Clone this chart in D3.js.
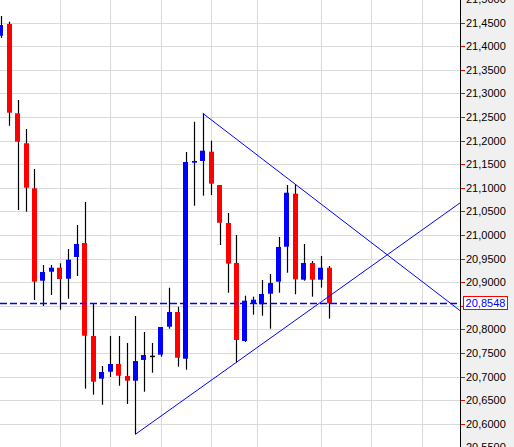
<!DOCTYPE html>
<html>
<head>
<meta charset="utf-8">
<script src="https://cdn.jsdelivr.net/npm/d3@7"></script>
<style>
  html, body { margin: 0; padding: 0; background: #fff; }
  svg { display: block; }
  text { font-family: "Liberation Sans", Arial, sans-serif; font-size: 11px; }
</style>
</head>
<body>
<svg id="chart" width="514" height="447"></svg>
<script>
// OHLC bars, oldest first
const opens  = [21.4220, 21.4468, 21.2576, 21.1941, 21.0987, 20.9030, 20.9220, 20.9305, 20.9072, 20.9532,
                20.9828, 20.7858, 20.6954, 20.7102, 20.7265, 20.7011, 20.6911, 20.7350, 20.7441, 20.7462,
                20.8055, 20.8367, 20.7377, 21.1530, 21.1566, 21.1763, 21.1057, 21.0252, 20.9405, 20.7752,
                20.8557, 20.8530, 20.8754, 20.9009, 20.9750, 21.0873, 20.9051, 20.9405, 20.9051, 20.9305];
const highs  = [21.4638, 21.4517, 21.2858, 21.2244, 21.1396, 20.9362, 20.9362, 20.9398, 20.9701, 21.0210,
                21.0697, 20.8557, 20.7222, 20.7858, 20.7858, 20.7710, 20.8282, 20.7943, 20.7710, 20.8049,
                20.8881, 20.8478, 21.1756, 21.2398, 21.2576, 21.1996, 21.1057, 21.0464, 20.9998, 20.8712,
                20.8691, 20.9045, 20.9172, 20.9956, 21.1057, 21.1072, 20.9807, 20.9447, 20.9553, 20.9341];
const lows   = [21.4172, 21.2314, 21.0528, 21.0492, 20.8621, 20.8494, 20.8727, 20.8415, 20.8648, 20.9129,
                20.6742, 20.6614, 20.6403, 20.6989, 20.6805, 20.6418, 20.5776, 20.6678, 20.7081, 20.7420,
                20.8013, 20.7208, 20.7144, 21.0619, 21.0831, 21.0845, 20.9786, 20.8775, 20.7301, 20.7731,
                20.8309, 20.8288, 20.8013, 20.8775, 20.9199, 20.8742, 20.9030, 20.8691, 20.8881, 20.8225];
const closes = [21.4447, 21.2589, 21.1975, 21.1000, 20.9009, 20.9214, 20.9305, 20.9066, 20.9475, 20.9807,
                20.7864, 20.6890, 20.7095, 20.7265, 20.7017, 20.6911, 20.7328, 20.7455, 20.7441, 20.8049,
                20.8367, 20.7398, 21.1544, 21.1566, 21.1784, 21.1085, 21.0258, 20.9390, 20.7773, 20.8606,
                20.8627, 20.8748, 20.8981, 20.9744, 21.0894, 20.9059, 20.9405, 20.9051, 20.9305, 20.8548];

// price axis ticks and session separators (bar positions)
const priceTicks = [20.55, 20.60, 20.65, 20.70, 20.75, 20.80, 20.85, 20.90, 20.95, 21.00,
                    21.05, 21.10, 21.15, 21.20, 21.25, 21.30, 21.35, 21.40, 21.45, 21.50];
const sessionBreaks = [7, 13, 19, 25, 30.5, 38, 44, 50];

// trend lines: two anchor points each [bar, price], extended to the right edge
const upperTrend = [[24, 21.2576], [35, 21.1072]];
const lowerTrend = [[16, 20.5776], [28, 20.7301]];

const lastPrice = 20.8548;

const W = 514, H = 447;
const plotRight = 460;

const svg = d3.select("#chart");

const x = d3.scaleLinear().domain([0, 39]).range([0.8, 329.0]);
const y = d3.scaleLinear().domain([20.55, 21.50]).range([447.3, -1.1]);

const fmt = v => d3.format(".4f")(v).replace(".", ",");
const crisp = v => Math.round(v) + 0.5;

// axis panel
svg.append("rect").attr("x", plotRight).attr("y", 0)
  .attr("width", W - plotRight).attr("height", H).attr("fill", "#f0f0f0");

const defs = svg.append("defs");
defs.append("clipPath").attr("id", "plotClip")
  .append("rect").attr("x", 0).attr("y", 0).attr("width", plotRight).attr("height", H);

const plot = svg.append("g").attr("clip-path", "url(#plotClip)");

// grid
plot.append("g").selectAll("line").data(priceTicks).join("line")
  .attr("x1", 0).attr("x2", plotRight)
  .attr("y1", d => crisp(y(d))).attr("y2", d => crisp(y(d)))
  .attr("stroke", "#dadada").attr("stroke-width", 1);

plot.append("g").selectAll("line").data(sessionBreaks).join("line")
  .attr("y1", 0).attr("y2", H)
  .attr("x1", d => crisp(x(d))).attr("x2", d => crisp(x(d)))
  .attr("stroke", "#dadada").attr("stroke-width", 1);

// candles
const bars = d3.range(opens.length).map(i => ({
  i, o: opens[i], h: highs[i], l: lows[i], c: closes[i]
}));
const colorOf = d => d.c > d.o ? "#0000ff" : (d.c < d.o ? "#ff0000" : "#000000");

const cg = plot.append("g");
cg.selectAll("line.wick").data(bars).join("line")
  .attr("class", "wick")
  .attr("x1", d => crisp(x(d.i))).attr("x2", d => crisp(x(d.i)))
  .attr("y1", d => y(d.h)).attr("y2", d => y(d.l))
  .attr("stroke", "#000").attr("stroke-width", 1.2);

cg.selectAll("rect.body").data(bars).join("rect")
  .attr("class", "body")
  .attr("x", d => Math.round(x(d.i) - 2.5))
  .attr("width", 5)
  .attr("y", d => Math.min(y(d.o), y(d.c)))
  .attr("height", d => Math.max(1.5, Math.abs(y(d.o) - y(d.c))))
  .attr("fill", colorOf);

// last price line
plot.append("line")
  .attr("x1", 0).attr("x2", plotRight)
  .attr("y1", y(lastPrice)).attr("y2", y(lastPrice))
  .attr("stroke", "#0000ff").attr("stroke-width", 1.5)
  .attr("stroke-dasharray", "7,3");

// trend lines
const rightBar = x.invert(plotRight);
function drawTrend(pts) {
  const [[i0, p0], [i1, p1]] = pts;
  const slope = (p1 - p0) / (i1 - i0);
  const pEnd = p0 + slope * (rightBar - i0);
  plot.append("line")
    .attr("x1", x(i0)).attr("y1", y(p0))
    .attr("x2", x(rightBar)).attr("y2", y(pEnd))
    .attr("stroke", "#0000ff").attr("stroke-width", 1);
}
drawTrend(upperTrend);
drawTrend(lowerTrend);

// price axis
svg.append("line").attr("x1", plotRight + 0.5).attr("x2", plotRight + 0.5)
  .attr("y1", 0).attr("y2", H).attr("stroke", "#000");

// tick labels that would sit under the last price tag are left out
const ly = y(lastPrice);
const axisLabels = priceTicks.filter(d => Math.abs(y(d) - ly) > 12);

const axisG = svg.append("g");
axisG.selectAll("line").data(priceTicks).join("line")
  .attr("x1", plotRight + 1).attr("x2", plotRight + 5)
  .attr("y1", d => crisp(y(d))).attr("y2", d => crisp(y(d)))
  .attr("stroke", "#ff0000");
axisG.selectAll("text").data(axisLabels).join("text")
  .attr("x", plotRight + 6).attr("y", d => y(d) + 4)
  .attr("fill", "#000")
  .text(fmt);

// last price tag
svg.append("rect")
  .attr("x", 463.5).attr("y", Math.round(ly) - 6.5)
  .attr("width", 44).attr("height", 13)
  .attr("fill", "#fff").attr("stroke", "#ff0000").attr("stroke-width", 1);
svg.append("text")
  .attr("x", 485.5).attr("y", ly + 4)
  .attr("text-anchor", "middle")
  .attr("fill", "#0000ff")
  .text(fmt(lastPrice));
</script>
</body>
</html>
